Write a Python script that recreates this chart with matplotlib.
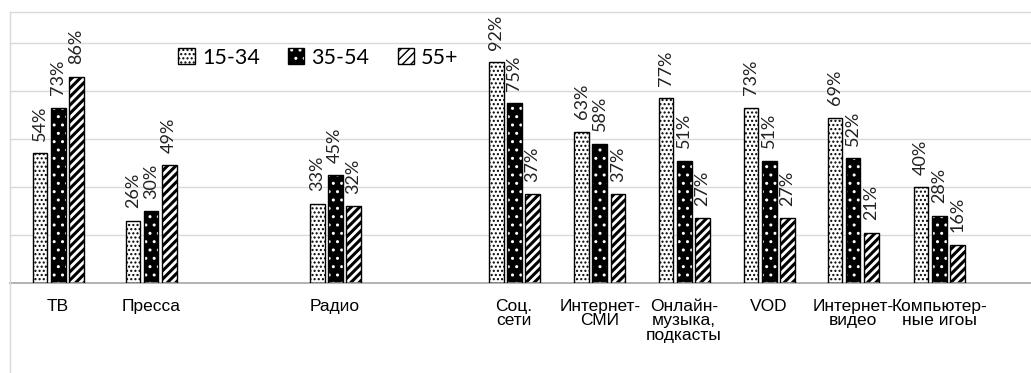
"""Media usage by age group, grouped bar chart."""
import matplotlib

matplotlib.use("Agg")
import matplotlib.pyplot as plt  # noqa
from matplotlib.legend_handler import HandlerTuple  # noqa
from matplotlib.lines import Line2D  # noqa
from matplotlib.patches import Patch  # noqa
import numpy as np

categories = ["ТВ", "Пресса", "Радио", "Соц.\nсети", "Интернет-\nСМИ",
              "Онлайн-\nмузыка,\nподкасты", "VOD", "Интернет-\nвидео",
              "Компьютер-\nные игоы"]
# group centres on the category axis (the source leaves empty slots around Радио)
group_pos = [0.0, 1.094, 3.26, 5.365, 6.376, 7.365, 8.365, 9.353, 10.365]

age_groups = ["15-34", "35-54", "55+"]
young = [54, 26, 33, 92, 63, 77, 73, 69, 40]
middle = [73, 30, 45, 75, 58, 51, 51, 52, 28]
senior = [86, 49, 32, 37, 37, 27, 27, 21, 16]

GRID = "#d9d9d9"
BASE = "#a6a6a6"
LABEL_FONT = ["Lato", "DejaVu Sans"]
CAT_FONT = ["Liberation Sans", "DejaVu Sans"]

fig = plt.figure(figsize=(10.31, 3.73), dpi=100)
ax = fig.add_axes([10 / 1031, 90 / 373, 1 - 10 / 1031, 271 / 373])

x = np.array(group_pos)
width = 0.176
step = 0.212

styles = [
    dict(face="white", hatch="....", hatch_color="black", lw=1.0),
    dict(face="black", hatch="..", hatch_color="white", lw=1.0),
    dict(face="white", hatch="////", hatch_color="black", lw=2.2),
]

for i, (vals, st) in enumerate(zip([young, middle, senior], styles)):
    xs = x + (i - 1) * step
    with plt.rc_context({"hatch.linewidth": st["lw"]}):
        ax.bar(xs, vals, width, color=st["face"], edgecolor=st["hatch_color"],
               hatch=st["hatch"], linewidth=0, zorder=2)
    ax.bar(xs, vals, width, fill=False, edgecolor="black", linewidth=1.0, zorder=3)
    for xi, v in zip(xs, vals):
        ax.annotate(f"{v}%", (xi, v), xytext=(0, 9), textcoords="offset points",
                    rotation=90, ha="center", va="bottom", fontsize=13,
                    family=LABEL_FONT, color="#222222")

ax.set_xlim(-0.565, 11.447)
ax.set_ylim(0, 113)
ax.set_yticks([20, 40, 60, 80, 100])
ax.yaxis.grid(True, color=GRID, linewidth=1.0, zorder=0)
ax.set_axisbelow(True)
ax.tick_params(axis="y", left=False, labelleft=False)
ax.tick_params(axis="x", bottom=False, pad=8)
ax.set_xticks(x)
ax.set_xticklabels(categories, fontsize=12.5, family=CAT_FONT, linespacing=0.95,
                   va="top")
for side in ["left", "right", "top"]:
    ax.spines[side].set_visible(False)
ax.spines["bottom"].set_color(BASE)
ax.spines["bottom"].set_linewidth(1.2)

# outer chart frame
fig.add_artist(Line2D([10 / 1031, 10 / 1031], [0, 1 - 12 / 373],
                      transform=fig.transFigure, color=GRID, linewidth=1.0))
fig.add_artist(Line2D([10 / 1031, 1], [1 - 12 / 373, 1 - 12 / 373],
                      transform=fig.transFigure, color=GRID, linewidth=1.0))

handles = []
for st in styles:
    with plt.rc_context({"hatch.linewidth": st["lw"]}):
        fillp = Patch(facecolor=st["face"], edgecolor=st["hatch_color"],
                      hatch=st["hatch"], linewidth=0)
    edgep = Patch(fill=False, edgecolor="black", linewidth=1.0)
    handles.append((fillp, edgep))
leg = fig.legend(handles, age_groups, loc="center", bbox_to_anchor=(0.309, 0.845),
                 ncol=3, frameon=False, handlelength=0.75, handleheight=0.75,
                 handletextpad=0.35, columnspacing=1.3,
                 handler_map={tuple: HandlerTuple(ndivide=1, pad=0)},
                 prop={"family": LABEL_FONT, "size": 15.5})

fig.savefig("out.png", dpi=100)
